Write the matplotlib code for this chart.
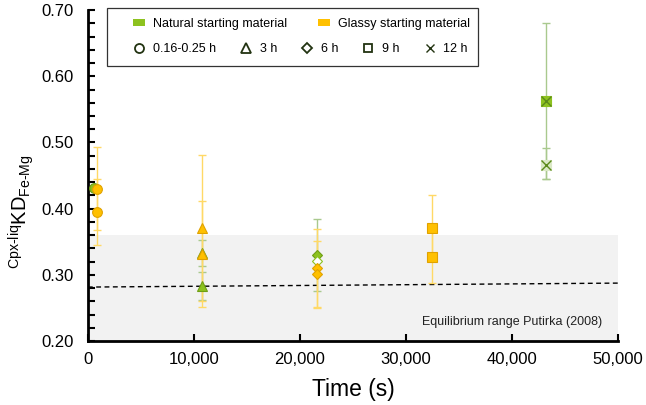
import matplotlib
matplotlib.use('Agg')
import matplotlib.pyplot as plt
from matplotlib.patches import Rectangle, Patch
from matplotlib.lines import Line2D
from matplotlib.ticker import MultipleLocator, FuncFormatter

plt.rcParams['font.family'] = 'Liberation Sans'
plt.rcParams['mathtext.fontset'] = 'custom'
plt.rcParams['mathtext.rm'] = 'Liberation Sans'
plt.rcParams['mathtext.it'] = 'Liberation Sans'

# Natural starting material (green)
nat_circle_t = [576]
nat_circle_y = [0.431]
nat_tri_t = [10800, 10800]
nat_tri_y = [0.333, 0.283]
nat_tri_err = [0.019, 0.021]
nat_dia_t = [21600]
nat_dia_y = [0.330]
nat_dia_err = [0.055]
nat_dia_open_t = [21600]
nat_dia_open_y = [0.321]
nat_x_t = [43200, 43200]
nat_x_y = [0.563, 0.466]
nat_x_err_lo = [0.118, 0.021]
nat_x_err_hi = [0.118, 0.025]

# Glassy starting material (orange)
gl_circle_t = [900, 900]
gl_circle_y = [0.430, 0.395]
gl_circle_err = [0.063, 0.050]
gl_tri_t = [10800, 10800]
gl_tri_y = [0.371, 0.331]
gl_tri_err = [0.110, 0.080]
gl_dia_t = [21600, 21600]
gl_dia_y = [0.310, 0.301]
gl_dia_err = [0.060, 0.050]
gl_sq_t = [32400, 32400]
gl_sq_y = [0.371, 0.327]
gl_sq_err = [0.050, 0.040]

# Equilibrium line and range (Putirka 2008)
eq_t = [0, 50000]
eq_y = [0.2815, 0.2875]
eq_lo, eq_hi = 0.20, 0.36

green = '#8dc21f'
green_edge = '#6f9e14'
green_bar = '#a9c98e'
orange = '#ffc000'
orange_edge = '#e0a200'
orange_bar = '#ffd966'

fig = plt.figure(figsize=(6.46, 4.05), dpi=100)
ax = fig.add_axes([0.136, 0.158, 0.821, 0.817])

ax.axhspan(eq_lo, eq_hi, color='#f2f2f2', zorder=0, lw=0)
ax.text(0.97, 0.04, 'Equilibrium range Putirka (2008)', transform=ax.transAxes,
        ha='right', va='bottom', fontsize=9, color='#222222')
ax.plot(eq_t, eq_y, color='black', ls=(0, (3.5, 2.5)), lw=1, zorder=1)

# error bars
ebkw = dict(fmt='none', elinewidth=1, capsize=3, capthick=1, zorder=2)
ax.errorbar(gl_circle_t, gl_circle_y, yerr=gl_circle_err, ecolor=orange_bar, **ebkw)
ax.errorbar(nat_tri_t, nat_tri_y, yerr=nat_tri_err, ecolor=green_bar, **ebkw)
ax.errorbar(gl_tri_t, gl_tri_y, yerr=gl_tri_err, ecolor=orange_bar, **ebkw)
ax.errorbar(nat_dia_t, nat_dia_y, yerr=nat_dia_err, ecolor=green_bar, **ebkw)
ax.errorbar(gl_dia_t, gl_dia_y, yerr=gl_dia_err, ecolor=orange_bar, **ebkw)
ax.errorbar(gl_sq_t, gl_sq_y, yerr=gl_sq_err, ecolor=orange_bar, **ebkw)
ax.errorbar(nat_x_t, nat_x_y, yerr=[nat_x_err_lo, nat_x_err_hi], ecolor=green_bar, **ebkw)

# markers
mk = dict(ls='none', zorder=3, mew=0.8)
ax.plot(nat_circle_t, nat_circle_y, marker='o', ms=7, mfc=green, mec=green_edge, **mk)
ax.plot(gl_circle_t, gl_circle_y, marker='o', ms=7, mfc=orange, mec=orange_edge, **mk)
ax.plot(nat_tri_t, nat_tri_y, marker='^', ms=7.5, mfc=green, mec=green_edge, **mk)
ax.plot(gl_tri_t, gl_tri_y, marker='^', ms=7.5, mfc=orange, mec=orange_edge, **mk)
ax.plot(nat_dia_t, nat_dia_y, marker='D', ms=5.5, mfc=green, mec=green_edge, **mk)
ax.plot(nat_dia_open_t, nat_dia_open_y, marker='D', ms=5.5, mfc='white', mec=green, **mk)
ax.plot(gl_dia_t, gl_dia_y, marker='D', ms=5.5, mfc=orange, mec=orange_edge, **mk)
ax.plot(gl_sq_t, gl_sq_y, marker='s', ms=6.5, mfc=orange, mec=orange_edge, **mk)
ax.plot(nat_x_t[:1], nat_x_y[:1], marker='s', ms=7, mfc=green, mec=green, **mk)
ax.plot(nat_x_t[1:], nat_x_y[1:], marker='s', ms=7, mfc='#dbe9c6', mec='#dbe9c6', **mk)
ax.plot(nat_x_t, nat_x_y, marker='x', ms=7, mec='#5b8a1a', ls='none', zorder=4, mew=1)

ax.set_xlim(0, 50000)
ax.set_ylim(0.20, 0.70)
ax.xaxis.set_major_locator(MultipleLocator(10000))
ax.xaxis.set_major_formatter(FuncFormatter(lambda v, p: f'{int(v):,}'))
ax.yaxis.set_major_locator(MultipleLocator(0.1))
ax.yaxis.set_minor_locator(MultipleLocator(0.02))
ax.yaxis.set_major_formatter(FuncFormatter(lambda v, p: f'{v:.2f}'))
ax.tick_params(axis='both', which='both', direction='in', width=1.5, length=5,
               labelsize=12, colors='black')
ax.tick_params(axis='x', pad=8)
ax.tick_params(axis='y', pad=10)
for s in ['top', 'right']:
    ax.spines[s].set_visible(False)
for s in ['left', 'bottom']:
    ax.spines[s].set_linewidth(2)

ax.set_xlabel('Time (s)', fontsize=16.5, labelpad=8)
ax.set_ylabel(r'$^{\mathrm{Cpx\text{-}liq}}\mathrm{KD}_{\mathrm{Fe\text{-}Mg}}$',
              fontsize=14.5)
ax.yaxis.set_label_coords(-0.097, 0.39)

# legend box
frame = Rectangle((0.036, 0.831), 0.70, 0.175, transform=ax.transAxes,
                  fill=False, ec='#333333', lw=0.9, clip_on=False, zorder=5)
ax.add_patch(frame)
row1 = [Patch(fc=green, ec='none'), Patch(fc=orange, ec='none')]
leg1 = ax.legend(row1, ['Natural starting material', 'Glassy starting material'],
                 ncol=2, frameon=False, fontsize=9, loc='center left',
                 bbox_to_anchor=(0.064, 0.958), handlelength=0.95, handleheight=0.55,
                 columnspacing=2.5, handletextpad=0.65)
ax.add_artist(leg1)
dk = '#223311'
row2 = [Line2D([], [], ls='none', marker='o', ms=6.5, mfc='none', mec=dk, mew=1.3),
        Line2D([], [], ls='none', marker='^', ms=7, mfc='none', mec=dk, mew=1.3),
        Line2D([], [], ls='none', marker='D', ms=5.5, mfc='none', mec=dk, mew=1.3),
        Line2D([], [], ls='none', marker='s', ms=6, mfc='none', mec=dk, mew=1.3),
        Line2D([], [], ls='none', marker='x', ms=6, mec=dk, mew=1.0)]
ax.legend(row2, ['0.16-0.25 h', '3 h', '6 h', '9 h', '12 h'],
          ncol=5, frameon=False, fontsize=9, loc='center left',
          bbox_to_anchor=(0.066, 0.882), handlelength=0.8,
          columnspacing=2.0, handletextpad=0.7)

fig.savefig('out.png', dpi=100)
